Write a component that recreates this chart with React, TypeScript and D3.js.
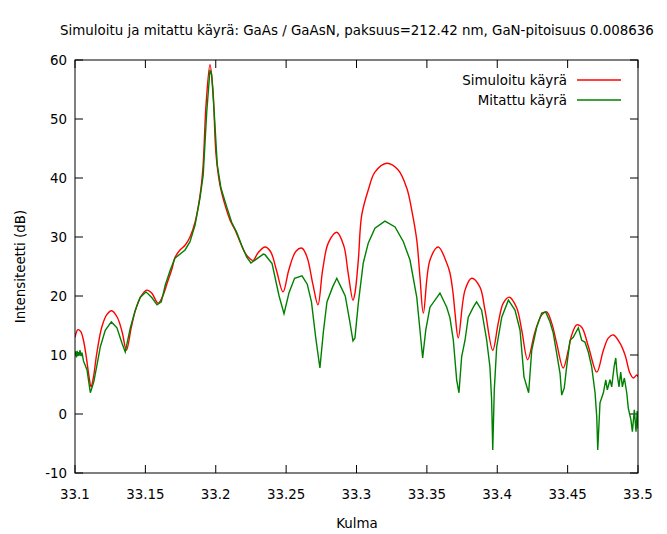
import React from "react";
import * as d3 from "d3";

const xTicks = [33.1, 33.15, 33.2, 33.25, 33.3, 33.35, 33.4, 33.45, 33.5];
const yTicks = [-10, 0, 10, 20, 30, 40, 50, 60];

const titleText = "Simuloitu ja mitattu käyrä: GaAs / GaAsN, paksuus=212.42 nm, GaN-pitoisuus 0.008636";
const xLabel = "Kulma";
const yLabel = "Intensiteetti (dB)";
const seriesNames = ["Simuloitu käyrä", "Mitattu käyrä"];

const simX = [
  33.1, 33.1021, 33.104, 33.106, 33.108, 33.11, 33.1114, 33.113, 33.1155, 33.119,
  33.1225, 33.126, 33.13, 33.1335, 33.1365, 33.14, 33.143, 33.1465, 33.151, 33.1545,
  33.159, 33.162, 33.1655, 33.169, 33.171, 33.1746, 33.1782, 33.1817, 33.1853, 33.1888,
  33.1909, 33.1931, 33.1959, 33.198, 33.2002, 33.203, 33.2066, 33.2101, 33.2137, 33.2172,
  33.2208, 33.2243, 33.2265, 33.23, 33.235, 33.239, 33.243, 33.2478, 33.252, 33.257,
  33.2613, 33.265, 33.269, 33.2726, 33.276, 33.28, 33.286, 33.291, 33.294, 33.2975,
  33.2989, 33.3013, 33.3037, 33.3084, 33.3131, 33.3215, 33.3295, 33.3357, 33.3392, 33.3428,
  33.3451, 33.3475, 33.3522, 33.3581, 33.3641, 33.3664, 33.3686, 33.37, 33.3723, 33.3771,
  33.3818, 33.3877, 33.3913, 33.3968, 33.4007, 33.4043, 33.4086, 33.4138, 33.4174, 33.4216,
  33.4268, 33.4316, 33.4351, 33.4387, 33.4422, 33.4469, 33.4505, 33.4529, 33.4565, 33.46,
  33.4648, 33.4707, 33.4754, 33.479, 33.4825, 33.4872, 33.4908, 33.4943, 33.4967, 33.4991,
  33.5
];
const simY = [
  13.0, 14.3, 14.0, 12.5, 9.7, 6.3, 4.6, 6.1, 10.3, 14.7,
  16.8, 17.5, 16.4, 13.9, 10.8, 14.7, 17.6, 19.8, 21.0, 20.5,
  18.8, 19.8, 22.2, 24.7, 26.5, 27.8, 28.6, 30.0, 32.5, 37.0,
  41.7, 52.4, 59.2, 55.0, 44.0, 38.8, 35.4, 32.9, 31.2, 29.2,
  27.3, 26.3, 26.0, 27.3, 28.3, 27.5, 24.5, 20.7, 24.5, 27.6,
  28.1, 26.5, 22.0, 18.5, 24.5, 29.0, 30.8, 28.5, 24.0, 19.3,
  20.5, 26.1, 33.7, 38.0, 41.0, 42.5, 41.4, 38.3, 34.6, 29.5,
  23.2, 17.1, 26.1, 28.3, 25.6, 23.9, 20.5, 17.1, 12.9, 21.0,
  23.0, 21.5, 17.6, 10.8, 15.4, 18.8, 19.8, 18.0, 14.2, 9.2,
  13.9, 16.8, 17.3, 15.4, 12.0, 7.8, 10.8, 13.4, 15.1, 14.7,
  11.4, 7.1, 10.8, 12.9, 13.4, 12.0, 10.0, 6.9, 6.1, 6.6,
  6.3
];

const measX = [
  33.1, 33.1005, 33.101, 33.1015, 33.102, 33.1025, 33.103, 33.1035, 33.1045, 33.105,
  33.106, 33.1085, 33.1109, 33.1133, 33.1156, 33.118, 33.1215, 33.1258, 33.1298, 33.1334,
  33.1357, 33.1393, 33.1428, 33.1464, 33.1504, 33.1547, 33.1583, 33.1613, 33.1642, 33.1677,
  33.171, 33.1782, 33.1817, 33.1853, 33.1888, 33.1911, 33.1936, 33.1959, 33.1971, 33.199,
  33.2011, 33.2037, 33.2078, 33.2113, 33.2149, 33.2184, 33.222, 33.225, 33.2291, 33.2338,
  33.235, 33.24, 33.245, 33.2485, 33.252, 33.256, 33.2613, 33.265, 33.268, 33.271,
  33.274, 33.2765, 33.279, 33.283, 33.286, 33.289, 33.292, 33.295, 33.2975, 33.2989,
  33.3013, 33.3048, 33.3084, 33.3131, 33.3202, 33.3274, 33.3333, 33.338, 33.3428, 33.3451,
  33.347, 33.3492, 33.3522, 33.3593, 33.3641, 33.3664, 33.3688, 33.3712, 33.3728, 33.3747,
  33.3771, 33.3794, 33.383, 33.3853, 33.3889, 33.3925, 33.3948, 33.396, 33.3968, 33.3979,
  33.3996, 33.4032, 33.4079, 33.4126, 33.4162, 33.419, 33.4223, 33.4245, 33.428, 33.4316,
  33.4344, 33.4375, 33.4398, 33.4422, 33.4446, 33.4458, 33.4476, 33.4493, 33.4517, 33.454,
  33.456, 33.4576, 33.46, 33.4623, 33.4647, 33.4671, 33.4695, 33.4707, 33.4714, 33.473,
  33.4754, 33.4771, 33.4782, 33.4801, 33.4813, 33.483, 33.4842, 33.4851, 33.4865, 33.4877,
  33.4889, 33.4903, 33.492, 33.4931, 33.495, 33.496, 33.4974, 33.4986, 33.4994, 33.5
];
const measY = [
  10.0, 10.6, 9.6, 10.7, 9.8, 10.5, 10.0, 10.8, 9.8, 10.4,
  9.0, 7.5, 3.6, 5.4, 8.3, 11.4, 14.2, 15.6, 14.6, 12.0,
  10.5, 14.6, 17.6, 19.8, 20.7, 19.7, 18.5, 19.0, 21.9, 24.4,
  26.4, 27.8, 29.2, 32.0, 36.6, 40.5, 51.2, 58.3, 57.5, 50.7,
  42.2, 38.3, 35.1, 32.5, 30.8, 28.6, 26.6, 25.6, 26.3, 27.1,
  27.0, 25.5, 20.0, 17.0, 20.5, 23.0, 23.4, 22.0, 19.0, 13.0,
  7.8, 14.0, 19.0, 21.5, 23.0, 21.5, 20.0, 16.0, 12.4, 12.9,
  18.8, 25.6, 29.0, 31.5, 32.7, 31.7, 29.2, 26.1, 19.8, 14.2,
  9.5, 14.2, 18.1, 20.5, 18.1, 16.3, 12.5, 5.7, 3.6, 9.7,
  12.5, 16.4, 18.1, 19.0, 17.6, 12.5, 8.0, 2.4, -6.1, 4.1,
  11.4, 16.4, 19.3, 17.6, 14.2, 6.3, 3.6, 10.8, 14.7, 17.1,
  17.3, 15.6, 13.7, 10.3, 6.9, 3.2, 4.4, 8.0, 12.5, 13.0,
  13.9, 14.6, 12.5, 12.2, 10.5, 8.0, 3.6, -0.5, -6.1, 1.9,
  3.6, 5.8, 4.1, 5.8, 4.6, 8.0, 9.5, 6.9, 4.6, 7.1,
  4.6, 6.1, 3.6, 1.0, -1.0, -3.0, 0.7, -3.0, 0.5, -2.5
];

const W = 667, H = 534;
const M = { left: 75, right: 638, top: 60, bottom: 473 };
const FONT = "DejaVu Sans, sans-serif";
const FS = 13.4;

export default function App() {
  const x = d3.scaleLinear().domain([33.1, 33.5]).range([M.left, M.right]);
  const y = d3.scaleLinear().domain([-10, 60]).range([M.bottom, M.top]);

  const simPts: [number, number][] = simX.map((v, i) => [v, simY[i]]);
  const measPts: [number, number][] = measX.map((v, i) => [v, measY[i]]);

  const lineSmooth = d3.line<[number, number]>()
    .x(d => x(d[0])).y(d => y(d[1]))
    .curve(d3.curveCatmullRom.alpha(0.5));
  const lineLin = d3.line<[number, number]>()
    .x(d => x(d[0])).y(d => y(d[1]));

  const tickLen = 8;
  const colors = ["#ff0000", "#008000"];

  return (
    <svg width={W} height={H} style={{ position: "absolute", left: 0, top: 0, background: "#fff" }}
      fontFamily={FONT}>
      <rect x={0} y={0} width={W} height={H} fill="#fff" />
      <text x={357} y={35} textAnchor="middle" fontSize={FS} fill="#000">{titleText}</text>

      <defs>
        <clipPath id="plotclip">
          <rect x={M.left} y={M.top} width={M.right - M.left} height={M.bottom - M.top} />
        </clipPath>
      </defs>

      {xTicks.map(t => (
        <g key={"xt" + t}>
          <line x1={x(t)} x2={x(t)} y1={M.bottom} y2={M.bottom - tickLen} stroke="#000" />
          <line x1={x(t)} x2={x(t)} y1={M.top} y2={M.top + tickLen} stroke="#000" />
          <text x={x(t)} y={M.bottom + 26} textAnchor="middle" fontSize={FS} fill="#000">{String(t)}</text>
        </g>
      ))}
      {yTicks.map(t => (
        <g key={"yt" + t}>
          <line x1={M.left} x2={M.left + tickLen} y1={y(t)} y2={y(t)} stroke="#000" />
          <line x1={M.right} x2={M.right - tickLen} y1={y(t)} y2={y(t)} stroke="#000" />
          <text x={M.left - 8} y={y(t) + 5} textAnchor="end" fontSize={FS} fill="#000">{String(t)}</text>
        </g>
      ))}

      <g clipPath="url(#plotclip)">
        <path d={lineSmooth(simPts) || ""} fill="none" stroke={colors[0]} strokeWidth={1.4} />
        <path d={lineLin(measPts) || ""} fill="none" stroke={colors[1]} strokeWidth={1.4} />
      </g>

      <rect x={M.left} y={M.top} width={M.right - M.left} height={M.bottom - M.top}
        fill="none" stroke="#000" strokeWidth={1} />

      {seriesNames.map((n, i) => (
        <g key={n}>
          <text x={567} y={85 + i * 20} textAnchor="end" fontSize={FS} fill="#000">{n}</text>
          <line x1={577} x2={621} y1={80 + i * 20} y2={80 + i * 20} stroke={colors[i]} strokeWidth={1.4} />
        </g>
      ))}

      <text x={357} y={528} textAnchor="middle" fontSize={FS} fill="#000">{xLabel}</text>
      <text transform={`translate(25,${(M.top + M.bottom) / 2}) rotate(-90)`} textAnchor="middle"
        fontSize={FS} fill="#000">{yLabel}</text>
    </svg>
  );
}
